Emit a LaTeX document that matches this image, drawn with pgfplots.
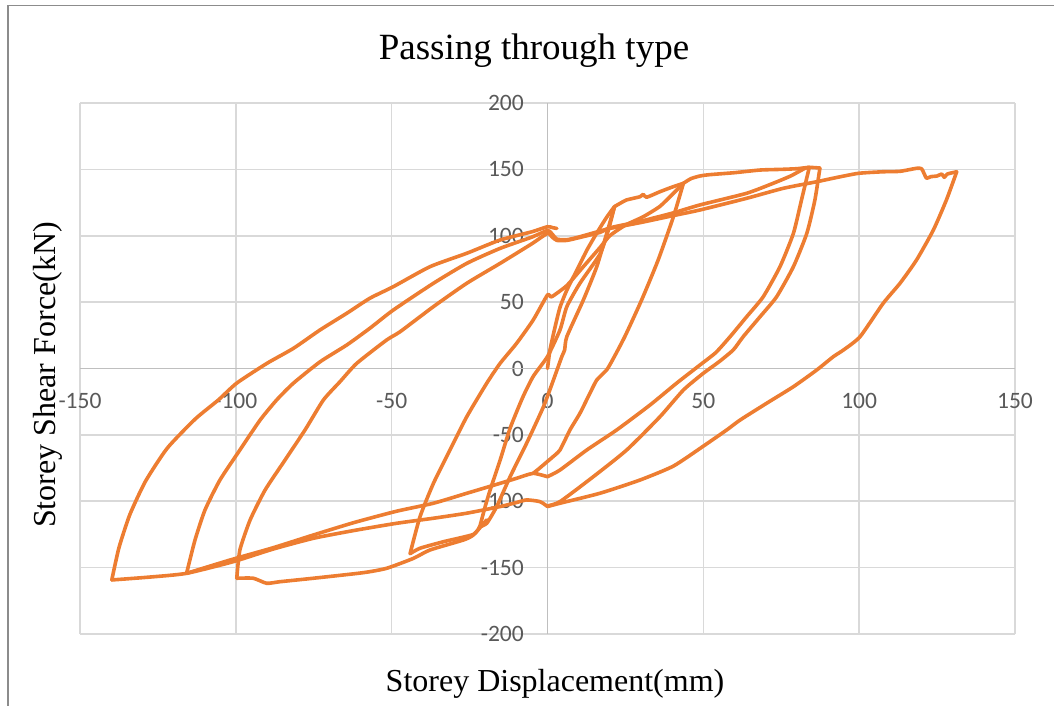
\documentclass[border=0pt]{standalone}
\usepackage{fontspec}
\setmainfont{Liberation Serif}
\newfontfamily\carlito{Carlito}
\usepackage{pgfplots}
\pgfplotsset{compat=1.18}
\definecolor{exorange}{HTML}{ED7D31}
\definecolor{gridgray}{HTML}{D9D9D9}
\definecolor{axisgray}{HTML}{BFBFBF}
\definecolor{tickgray}{HTML}{595959}
\definecolor{bordergray}{HTML}{8C8C8C}
\begin{document}
\begin{tikzpicture}[x=1pt,y=1pt]
\useasboundingbox (0,0) rectangle (1054,706);
\draw[bordergray, line width=1.4pt] (8,-5) -- (8,700.5) -- (1060,700.5);
\begin{axis}[at={(80pt,72pt)}, anchor=south west, width=935pt, height=531pt, scale only axis,
 xmin=-150, xmax=150, ymin=-200, ymax=200,
 xtick={-150,-100,-50,0,50,100,150}, ytick={-200,-150,-100,-50,0,50,100,150,200},
 xticklabels={-150,-100,-50,0,50,100,150},
 yticklabels={-200,-150,-100,-50,0,50,100,150,200},
 grid=major, grid style={gridgray, line width=1.6pt},
 axis line style={draw=none},
 major tick length=0pt,
 tick label style={font=\carlito\fontsize{23.5}{26}\selectfont, text=tickgray, inner sep=0pt},
 xticklabel style={anchor=center, yshift=233.5pt},
 yticklabel style={anchor=east, xshift=444pt},
 extra x ticks={0}, extra y ticks={0}, extra x tick labels={}, extra y tick labels={},
 extra tick style={grid style={axisgray, line width=1.8pt}},
 cycle list={{exorange, line width=3.6pt, line join=round, line cap=round, mark=none}},
 every axis plot post/.append style={exorange, line width=3.6pt, line join=round, line cap=round, mark=none, smooth, tension=0.35},
]
% initial loading
\addplot coordinates {(0,0) (0.8,14) (2.4,31) (4,46) (6.2,59) (9.4,74) (12.6,89) (15.8,102) (19,114) (21.5,122)};
% envelope 21 -> 43
\addplot coordinates {(21.5,122) (23.3,124.4) (25.4,127) (29.7,129.4) (30.7,131.2) (31.8,129) (36.1,133.2) (40.4,137) (43.6,139.5)};
% unload from 43
\addplot coordinates {(43.6,139.5) (40.4,114.3) (35.5,81.7) (30.2,51.6) (24.8,24) (21,7) (19,-1) (15.8,-8.7) (13.6,-18.7) (10.4,-33.8) (7.2,-46.3) (4,-61.4) (1.5,-67) (0,-70) (-2.5,-75) (-4.6,-79)};
% cycle 1 unloading (P)
\addplot coordinates {(21.5,122) (19,101.8) (15.8,76.7) (11.5,51.6) (6.2,24) (5.5,14) (4.6,9) (2,-8) (-1.3,-28.8) (-6.7,-56.3) (-12,-81.5) (-16.3,-104) (-19.5,-116.6) (-22,-119.5)};
% cycle 1 reloading (Q)
\addplot coordinates {(-21.7,-119) (-20,-104) (-18.4,-91.5) (-15.2,-69) (-12,-45) (-8,-22) (-4.6,-6) (0,9) (4,29) (6.2,46.6) (10.4,64.2) (16.8,86) (19.5,104) (21.5,122)};
% loading to -44
\addplot coordinates {(-21.7,-119) (-23.8,-125) (-33.4,-130.5) (-40.9,-135.4) (-44.1,-139.5)};
% lowest curve to -100
\addplot coordinates {(-19.5,-114) (-23.8,-125.4) (-27,-129.2) (-37.7,-136.7) (-43,-143) (-51.6,-150.5) (-59.1,-153.8) (-75.1,-158) (-85.8,-160.6) (-90.1,-161.8) (-94.4,-158) (-99.7,-158)};
% unload -44, reload to 43
\addplot coordinates {(-44.1,-139.5) (-40.9,-111.6) (-36.6,-86.5) (-31.3,-61.4) (-25.9,-36.3) (-19.5,-11.1) (-15.2,3.9) (-9.9,19) (-4.6,36.5) (0,55.4) (1.3,54) (6.2,62.5) (11.5,76.7) (16.8,91) (20,100) (25,108) (30.7,114.3) (36,122) (40,131) (43.6,139.5)};
% envelope 43 -> 87
\addplot coordinates {(43.6,139.5) (46,143) (48.9,145) (52,146) (60,147.5) (68.2,149.5) (75,150) (80,150.5) (84,151.5) (87.4,151)};
% unload from 84
\addplot coordinates {(84,151.5) (81.5,127) (78.9,101.8) (74.6,76.7) (69.2,54) (63.9,39) (58.6,24) (54,12) (48.9,2.6) (41.4,-11.1) (32.9,-27.5) (22.2,-46.3) (12.6,-61.4) (4,-76.5) (0,-81.5)};
% line A
\addplot coordinates {(0,-81.5) (-4.6,-79) (-9.9,-82.7) (-15.2,-86.5) (-25.9,-94) (-36.6,-101.5) (-48.4,-107.5) (-62,-116) (-75.1,-125.4) (-88,-135) (-101.9,-144.3) (-115.8,-154.3)};
% unload from 87
\addplot coordinates {(87.4,151) (85.8,127) (83.2,101.8) (78.9,76.7) (73.5,54) (68.2,39) (62.8,24) (59.6,14) (55,5) (50,-3.6) (43.6,-16.2) (36.1,-36.3) (25.4,-61.4) (14.7,-81.5) (4,-100.3) (0,-103.5)};
% unload from 132
\addplot coordinates {(131.3,148.2) (128,127) (123.8,104.3) (118.4,81.7) (113.1,64.2) (107.7,49.1) (100.3,24) (95,14) (91.7,8.9) (86.4,-1.1) (78.9,-13.7) (70.3,-26.2) (61.8,-38.8) (57.5,-46.3) (50,-58.5) (40.4,-73.5) (29.7,-84) (16.8,-94) (4,-101.5) (0,-104)};
% line B
\addplot coordinates {(0,-104) (-2.4,-100.3) (-6.7,-99) (-10,-101) (-15.2,-104) (-25.9,-109) (-36.6,-112.8) (-48.4,-116.6) (-62,-122) (-75.1,-127.9) (-88,-136) (-100.8,-145.5) (-115.8,-154.3) (-127,-157) (-139.8,-159.3)};
% unload from -140
\addplot coordinates {(-139.8,-159.3) (-137.5,-135) (-134,-110) (-129,-85) (-122,-60) (-113,-38) (-105.6,-23.7) (-99.7,-11) (-90,3.9) (-81.5,15.2) (-73,29) (-64.4,41.6) (-57,52.9) (-49.5,61.6) (-37.7,76.7) (-25.9,86.8) (-15.2,96.8) (-5,103) (0,106.8) (1.8,106) (3,105.5)};
% unload from -115, reload to 132
\addplot coordinates {(-115.8,-154.3) (-113.1,-129.2) (-109.9,-106.6) (-105.1,-84) (-98.7,-61.4) (-92.2,-38.8) (-86.9,-23.7) (-81.5,-11) (-73,5) (-64.4,17.7) (-57,30.3) (-49.5,44) (-36.6,64.2) (-25.9,79.2) (-15.2,90.5) (-5,99) (0,104) (1.3,101.8) (3,97.5) (6.2,97) (10,99) (16.8,103.5) (20,105.5) (30,110) (40,115) (48.9,119.4) (63.9,128.2) (75.6,135.7) (86.4,140.7) (92,143.5) (99.7,147) (107.7,148.2) (113,148.5) (118.4,150.8) (120,150.5) (121,146) (121.6,143.3) (123,144.5) (125,145) (126.5,146.5) (127.3,144) (128.3,146.5) (131.3,148.2)};
% unload from -100, reload to 84
\addplot coordinates {(-99.7,-158) (-98.7,-136.7) (-95.4,-114) (-90.6,-91.5) (-84.2,-68.9) (-77.8,-46.3) (-71.9,-23.7) (-66.6,-10) (-61.2,3.9) (-51.6,21.5) (-47.3,27.7) (-36.6,46.6) (-25.9,64.2) (-15.2,79.2) (-5,94) (0,101.8) (1.5,99) (3,96.5) (6.2,96.5) (10,98.5) (16.8,102.5) (20.1,106) (30,111) (40,117) (48.9,123.2) (63.9,132) (72.4,139.5) (78,145) (82.6,150.8) (84,151.5)};
\end{axis}
\node[anchor=base, font=\fontsize{37}{44}\selectfont] at (534,646) {Passing through type};
\node[anchor=base, font=\fontsize{32}{38}\selectfont] at (555,14) {Storey Displacement(mm)};
\node[anchor=base, rotate=90, font=\fontsize{32}{38}\selectfont] at (55,331) {Storey Shear Force(kN)};
\end{tikzpicture}
\end{document}
